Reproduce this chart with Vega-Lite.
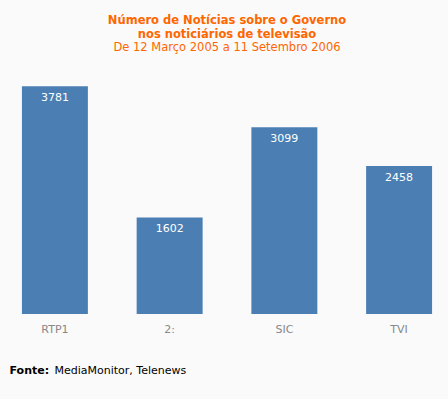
{
  "$schema": "https://vega.github.io/schema/vega-lite/v6.json",
  "width": 434,
  "height": 241,
  "autosize": {"type": "none"},
  "padding": {"left": 10, "top": 73, "right": 4, "bottom": 85},
  "background": "#fafafa",
  "config": {"view": {"stroke": null}, "font": "DejaVu Sans"},
  "title": {
    "text": ["Número de Notícias sobre o Governo", "nos noticiários de televisão"],
    "subtitle": "De 12 Março 2005 a 11 Setembro 2006",
    "anchor": "middle",
    "frame": "group",
    "font": "DejaVu Sans",
    "fontSize": 11.5,
    "fontWeight": "bold",
    "color": "#ff6600",
    "lineHeight": 14,
    "subtitleFont": "DejaVu Sans",
    "subtitleFontSize": 11.5,
    "subtitleColor": "#ff6600",
    "subtitlePadding": 1,
    "offset": 20
  },
  "data": {
    "values": [
      {"canal": "RTP1", "noticias": 3781},
      {"canal": "2:", "noticias": 1602},
      {"canal": "SIC", "noticias": 3099},
      {"canal": "TVI", "noticias": 2458}
    ]
  },
  "encoding": {
    "x": {
      "field": "canal",
      "type": "nominal",
      "sort": null,
      "scale": {"paddingInner": 0.425, "paddingOuter": 0.104},
      "axis": {
        "labelAngle": 0,
        "labelColor": "#888888",
        "labelFont": "DejaVu Sans",
        "labelFontSize": 11,
        "labelPadding": 9,
        "ticks": false,
        "domain": false,
        "title": "MediaMonitor, Telenews",
        "titleFont": "DejaVu Sans",
        "titleFontSize": 11,
        "titleFontWeight": "normal",
        "titleColor": "#000000",
        "titleAlign": "left",
        "titleBaseline": "alphabetic",
        "titleX": 44,
        "titleY": 59
      }
    },
    "y": {
      "field": "noticias",
      "type": "quantitative",
      "scale": {"domain": [0, 4000], "nice": false},
      "axis": {
        "labels": false,
        "ticks": false,
        "domain": false,
        "grid": false,
        "title": "Fonte:",
        "titleAngle": 0,
        "titleFont": "DejaVu Sans",
        "titleFontSize": 11,
        "titleFontWeight": "bold",
        "titleColor": "#000000",
        "titleAlign": "left",
        "titleBaseline": "alphabetic",
        "titleX": -1,
        "titleY": 300
      }
    }
  },
  "layer": [
    {"mark": {"type": "bar", "color": "#4b7fb4"}},
    {
      "mark": {"type": "text", "color": "#ffffff", "baseline": "top", "dy": 6, "font": "DejaVu Sans", "fontSize": 11},
      "encoding": {"text": {"field": "noticias", "type": "quantitative"}}
    }
  ]
}
